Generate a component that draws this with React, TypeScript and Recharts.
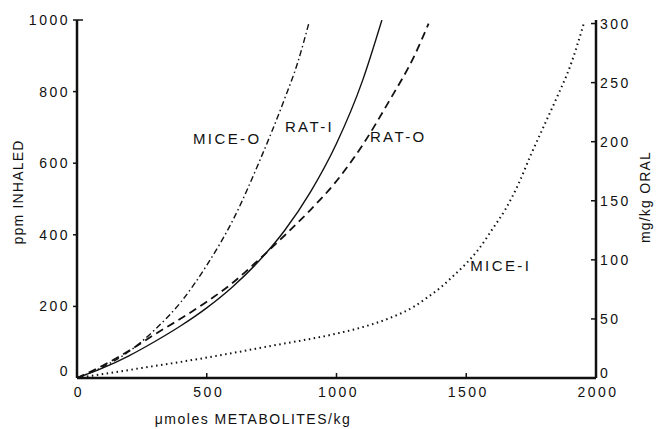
import React from 'react';
import { LineChart, Line, XAxis, YAxis, ReferenceDot, Label } from 'recharts';

// ---- data ----
const xTicks = [0, 500, 1000, 1500, 2000];
const leftTicks = [0, 200, 400, 600, 800, 1000];
const rightTicks = [0, 50, 100, 150, 200, 250, 300];

// RAT-I : ppm inhaled (left axis)
const ratIX = [0, 100, 200, 300, 400, 500, 600, 700, 800, 900, 1000, 1100, 1175];
const ratIY = [0, 28, 62, 102, 146, 196, 255, 326, 412, 520, 655, 830, 1000];

// MICE-I : ppm inhaled (left axis)
const miceIX = [0, 100, 250, 500, 750, 1000, 1100, 1200, 1300, 1350, 1400, 1450, 1500, 1550, 1600, 1650, 1700, 1750, 1800, 1850, 1900, 1955];
const miceIY = [0, 11, 28, 57, 90, 124, 142, 166, 200, 225, 252, 285, 320, 362, 415, 470, 540, 625, 705, 785, 870, 995];

// RAT-O : mg/kg oral (right axis)
const ratOX = [0, 100, 200, 300, 400, 500, 600, 700, 800, 900, 1000, 1100, 1200, 1300, 1355];
const ratOY = [0, 10.6, 23, 37, 50.3, 64.5, 80.6, 100, 120.6, 142.4, 166.7, 197, 233.3, 272.7, 300];

// MICE-O : mg/kg oral (right axis)
const miceOX = [0, 100, 200, 300, 400, 500, 600, 700, 800, 850, 893];
const miceOY = [0, 9.4, 22.4, 40.9, 64.2, 95.4, 133.3, 181.8, 236.3, 266.6, 300];

// curve labels (data coordinates on left axis)
const curveLabels = [
  { text: 'MICE-O', x: 579, y: 670 },
  { text: 'RAT-I', x: 896, y: 701 },
  { text: 'RAT-O', x: 1238, y: 673 },
  { text: 'MICE-I', x: 1633, y: 313 },
];

const zip = (xs: number[], ys: number[]) => xs.map((x, i) => ({ x, y: ys[i] }));
const ratI = zip(ratIX, ratIY);
const miceI = zip(miceIX, miceIY);
const ratO = zip(ratOX, ratOY);
const miceO = zip(miceOX, miceOY);

const FONT = '"Liberation Sans", Arial, Helvetica, sans-serif';
const INK = '#111';

const LeftTick = (props: any) => {
  const { x, y, payload } = props;
  const ax = x + 6;
  const v = payload.value;
  return (
    <g>
      {v !== 0 && <line x1={ax - 4} x2={ax + (v === 1000 ? 6 : 0)} y1={y} y2={y} stroke={INK} strokeWidth={1.5} />}
      <text x={x - 1} y={v === 0 ? y - 7 : y} dy="0.36em" textAnchor="end" fontFamily={FONT} fontSize={14} letterSpacing={2.5} fill={INK}>
        {v}
      </text>
    </g>
  );
};

const RightTick = (props: any) => {
  const { x, y, payload } = props;
  const ax = x - 6;
  const v = payload.value;
  return (
    <g>
      {v !== 0 && <line x1={ax - 5} x2={ax} y1={y} y2={y} stroke={INK} strokeWidth={1.5} />}
      <text x={x - 2} y={v === 0 ? y - 5 : y} dy="0.36em" textAnchor="start" fontFamily={FONT} fontSize={14} letterSpacing={2.5} fill={INK}>
        {v}
      </text>
    </g>
  );
};

const BottomTick = (props: any) => {
  const { x, y, payload } = props;
  const ay = y - 6;
  const v = payload.value;
  return (
    <g>
      {v !== 0 && v !== 2000 && <line x1={x} x2={x} y1={ay - 5} y2={ay} stroke={INK} strokeWidth={1.5} />}
      <text x={x + 2} y={y + 2} dy="0.78em" textAnchor="middle" fontFamily={FONT} fontSize={14} letterSpacing={2.5} fill={INK}>
        {v}
      </text>
    </g>
  );
};

const CurveLabel = (props: any) => {
  const { viewBox, value } = props;
  const cx = viewBox.x + viewBox.width / 2;
  const cy = viewBox.y + viewBox.height / 2;
  return (
    <text x={cx} y={cy} dy="0.36em" textAnchor="middle" fontFamily={FONT} fontSize={15} letterSpacing={2.4} fill={INK}>
      {value}
    </text>
  );
};

export default function App() {
  return (
    <div style={{ position: 'absolute', left: 0, top: 0, background: '#fff' }}>
      <LineChart width={662} height={429} margin={{ top: 20, right: 0, bottom: 0, left: 0 }}>
        <XAxis
          dataKey="x"
          type="number"
          domain={[0, 2000]}
          ticks={xTicks}
          allowDataOverflow
          height={51}
          tickSize={0}
          tickMargin={6}
          tickLine={false}
          axisLine={{ stroke: INK, strokeWidth: 2.5 }}
          tick={<BottomTick />}
        >
          <Label
            content={(p: any) => (
              <text x={p.viewBox.x + 176} y={p.viewBox.y + 46} textAnchor="middle" fontFamily={FONT} fontSize={14} letterSpacing={1.5} fill={INK}>
                μmoles METABOLITES/kg
              </text>
            )}
          />
        </XAxis>
        <YAxis
          yAxisId="L"
          orientation="left"
          type="number"
          domain={[0, 1000]}
          ticks={leftTicks}
          width={77}
          allowDataOverflow
          tickSize={0}
          tickMargin={6}
          tickLine={false}
          axisLine={{ stroke: INK, strokeWidth: 2.5 }}
          tick={<LeftTick />}
        >
          <Label
            content={(p: any) => {
              const x = p.viewBox.x + 23;
              const y = p.viewBox.y + 172;
              return (
                <text x={x} y={y} transform={`rotate(-90 ${x} ${y})`} textAnchor="middle" fontFamily={FONT} fontSize={14} letterSpacing={1.2} fill={INK}>
                  ppm INHALED
                </text>
              );
            }}
          />
        </YAxis>
        <YAxis
          yAxisId="R"
          orientation="right"
          type="number"
          domain={[0, 303]}
          ticks={rightTicks}
          width={66}
          allowDataOverflow
          tickSize={0}
          tickMargin={6}
          tickLine={false}
          axisLine={{ stroke: INK, strokeWidth: 2.5 }}
          tick={<RightTick />}
        >
          <Label
            content={(p: any) => {
              const x = p.viewBox.x + 54;
              const y = p.viewBox.y + 177;
              return (
                <text x={x} y={y} transform={`rotate(-90 ${x} ${y})`} textAnchor="middle" fontFamily={FONT} fontSize={14} letterSpacing={1.2} fill={INK}>
                  mg/kg ORAL
                </text>
              );
            }}
          />
        </YAxis>

        <Line yAxisId="L" data={ratI} dataKey="y" type="monotone" stroke={INK} strokeWidth={1.4} dot={false} isAnimationActive={false} />
        <Line yAxisId="L" data={miceI} dataKey="y" type="monotone" stroke={INK} strokeWidth={2} strokeDasharray="1.5 3.5" dot={false} isAnimationActive={false} />
        <Line yAxisId="R" data={ratO} dataKey="y" type="monotone" stroke={INK} strokeWidth={1.8} strokeDasharray="8 5" dot={false} isAnimationActive={false} />
        <Line yAxisId="R" data={miceO} dataKey="y" type="monotone" stroke={INK} strokeWidth={1.4} strokeDasharray="6 3 1.5 3" dot={false} isAnimationActive={false} />

        {curveLabels.map((c) => (
          <ReferenceDot
            key={c.text}
            yAxisId="L"
            x={c.x}
            y={c.y}
            r={1}
            fill="none"
            stroke="none"
            ifOverflow="visible"
            label={<CurveLabel value={c.text} />}
          />
        ))}
      </LineChart>
    </div>
  );
}
